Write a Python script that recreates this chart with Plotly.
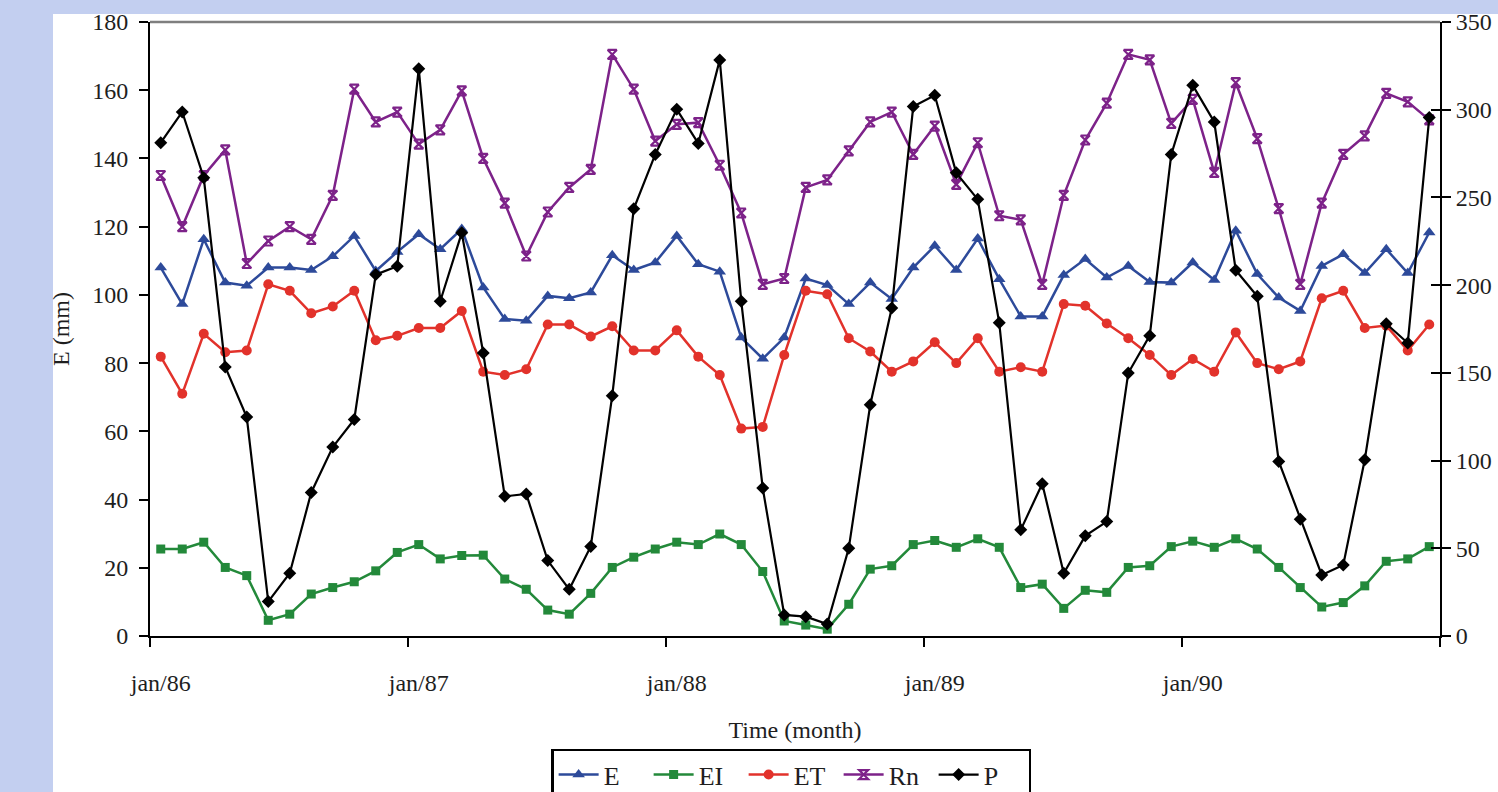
import plotly.graph_objects as go

# ---------------- data ----------------
month_names = ["jan", "fev", "mar", "abr", "mai", "jun", "jul", "ago", "set", "out", "nov", "dez"]
years = ["86", "87", "88", "89", "90"]
months = [f"{m}/{y}" for y in years for m in month_names]
year_tick_labels = ["jan/86", "jan/87", "jan/88", "jan/89", "jan/90"]

E = [108, 97.3, 116.3, 103.6, 102.7, 108, 108, 107.3, 111.3, 117.3,
     107, 112.6, 117.8, 113.4, 119.3, 102.2, 92.9, 92.4, 99.7, 99,
     100.7, 111.6, 107.3, 109.5, 117.3, 109, 106.8, 87.5, 81.3, 87.5,
     104.8, 102.9, 97.3, 103.6, 98.8, 108, 114.4, 107.3, 116.5, 104.6,
     93.7, 93.7, 105.8, 110.5, 105.1, 108.5, 103.8, 103.6, 109.5, 104.4,
     118.8, 106.1, 99.2, 95.3, 108.5, 111.9, 106.4, 113.4, 106.4, 118.3]

EI = [25.5, 25.5, 27.5, 20.1, 17.7, 4.6, 6.4, 12.3, 14.2, 15.9,
      19.1, 24.5, 26.8, 22.6, 23.6, 23.7, 16.7, 13.7, 7.6, 6.4,
      12.5, 20.1, 23.1, 25.5, 27.5, 26.8, 29.9, 26.8, 18.9, 4.4,
      3.2, 2, 9.3, 19.6, 20.6, 26.8, 28, 26, 28.5, 26,
      14.2, 15.2, 8.1, 13.4, 12.8, 20.1, 20.6, 26.2, 27.8, 26,
      28.5, 25.5, 20.1, 14.2, 8.5, 9.8, 14.7, 21.9, 22.6, 26.2]

ET = [81.9, 71, 88.6, 83.2, 83.7, 103.1, 101.2, 94.6, 96.6, 101.2,
      86.7, 88, 90.3, 90.3, 95.3, 77.5, 76.5, 78.2, 91.3, 91.3,
      87.8, 90.8, 83.7, 83.7, 89.6, 81.9, 76.5, 60.8, 61.3, 82.4,
      101.2, 100.2, 87.3, 83.4, 77.5, 80.5, 86.1, 80, 87.3, 77.5,
      78.8, 77.5, 97.3, 96.8, 91.6, 87.3, 82.4, 76.5, 81.2, 77.5,
      89, 80, 78.2, 80.5, 99, 101.2, 90.3, 91, 83.7, 91.3]

Rn = [135, 120, 135, 142.5, 109.2, 115.8, 120, 116.3, 129.2, 160.3,
      150.7, 153.6, 144.2, 148.4, 159.8, 140, 126.9, 111.4, 124.3, 131.5,
      136.8, 170.5, 160.3, 145.1, 150, 150.5, 138, 124, 103.1, 104.8,
      131.5, 133.7, 142.2, 150.7, 153.6, 141.2, 149.5, 132.4, 144.6, 123.2,
      122, 103.1, 129.2, 145.4, 156.2, 170.5, 168.9, 150.3, 157.3, 135.9,
      162.2, 145.8, 125.3, 103.1, 126.9, 141.2, 146.6, 159.1, 156.6, 151.3]

P = [281.2, 298.7, 261.2, 153.4, 124.8, 19.6, 35.8, 81.8, 107.7, 123.4,
     206, 210.8, 323.4, 190.8, 229.8, 161.3, 79.6, 81, 43, 26.6,
     51, 137, 243.5, 274.5, 300.2, 280.8, 328.4, 190.8, 84.3, 12,
     11, 6.8, 50, 131.8, 187, 301.8, 308.2, 264, 248.9, 178.5,
     60.5, 86.8, 35.8, 57.1, 65.2, 149.9, 171.2, 274.5, 313.9, 293,
     208.5, 193.7, 99.5, 66.6, 34.8, 40.5, 100.5, 178, 167, 295.5]

# ---------------- figure ----------------
idx = list(range(len(months)))
label_pos = [months.index(lbl) for lbl in year_tick_labels]
boundary_pos = [i - 0.5 for i in range(0, len(months) + 1, 12)]

FONT = "Liberation Serif, Times New Roman, serif"
TXT = "#1e1e1e"

fig = go.Figure()

series = [
    ("E", E, "#2d4a9a", dict(symbol="triangle-up", size=11), "y", 2.5),
    ("EI", EI, "#23893a", dict(symbol="square", size=9), "y", 2.5),
    ("ET", ET, "#e2322b", dict(symbol="circle", size=10), "y", 2.5),
    ("Rn", Rn, "#7d2289", dict(symbol="hourglass-open", size=9,
                                line=dict(width=2.2, color="#7d2289")), "y", 2.5),
    ("P", P, "#000000", dict(symbol="diamond", size=10), "y2", 2.2),
]
for name, vals, col, mk, yax, lw in series:
    mk = dict(mk)
    mk.setdefault("color", col)
    fig.add_trace(go.Scatter(
        x=idx, y=vals, name=name, mode="lines+markers", yaxis=yax,
        line=dict(color=col, width=lw), marker=mk, customdata=months,
        hovertemplate="%{customdata}: %{y}<extra>" + name + "</extra>",
    ))

# helper invisible traces so the labelled axis and the inner right ticks are drawn
fig.add_trace(go.Scatter(x=label_pos, y=[None] * len(label_pos), xaxis="x2",
                         showlegend=False, hoverinfo="skip", mode="markers"))
fig.add_trace(go.Scatter(x=label_pos, y=[None] * len(label_pos), yaxis="y3",
                         showlegend=False, hoverinfo="skip", mode="markers"))

fig.update_layout(
    width=1498, height=792,
    margin=dict(l=150, r=58, t=22, b=156, autoexpand=False),
    paper_bgcolor="#c3cff0",
    plot_bgcolor="white",
    font=dict(family=FONT, size=24, color=TXT),
    showlegend=True,
    xaxis=dict(
        range=[-0.5, len(months) - 0.5], tickvals=boundary_pos,
        showticklabels=False, ticks="outside", ticklen=9, tickwidth=2,
        tickcolor="black", showline=True, linecolor="black", linewidth=2,
        showgrid=False, zeroline=False, automargin=False,
    ),
    xaxis2=dict(
        overlaying="x", anchor="y", side="bottom",
        range=[-0.5, len(months) - 0.5], tickvals=label_pos,
        ticktext=year_tick_labels, ticks="outside", ticklen=25,
        tickcolor="rgba(0,0,0,0)", showline=False, showgrid=False,
        zeroline=False, automargin=False,
        tickfont=dict(family=FONT, size=24, color=TXT),
        title=dict(text="Time (month)", standoff=26,
                   font=dict(family=FONT, size=24, color=TXT)),
    ),
    yaxis=dict(
        range=[0, 180], dtick=20, ticks="outside", ticklen=9, tickwidth=2,
        tickcolor="black", showline=True, linecolor="black", linewidth=2,
        showgrid=False, zeroline=False, automargin=False,
        ticklabelstandoff=6,
        title=dict(text="E (mm)", standoff=16,
                   font=dict(family=FONT, size=24, color=TXT)),
    ),
    yaxis2=dict(
        range=[0, 350], dtick=50, overlaying="y", side="right",
        ticks="outside", ticklen=9, tickwidth=2, tickcolor="black",
        showline=True, linecolor="black", linewidth=2, showgrid=False,
        zeroline=False, automargin=False,
        tickfont=dict(family=FONT, size=24, color=TXT),
    ),
    yaxis3=dict(
        range=[0, 350], dtick=50, overlaying="y", side="right",
        ticks="inside", ticklen=9, tickwidth=2, tickcolor="black",
        showticklabels=False, showline=False, showgrid=False,
        zeroline=False, automargin=False,
    ),
    legend=dict(
        orientation="h", x=0.497, xanchor="center", y=-0.1835, yanchor="top",
        bgcolor="white", bordercolor="black", borderwidth=2.5,
        font=dict(family=FONT, size=26, color=TXT),
        itemwidth=40, entrywidth=40, entrywidthmode="pixels",
    ),
    shapes=[
        dict(type="rect", xref="paper", yref="paper", x0=-0.0752, x1=1.05,
             y0=-0.3, y1=1.013, fillcolor="white", line=dict(width=0),
             layer="below"),
        dict(type="line", xref="paper", yref="paper", x0=0, x1=1, y0=1, y1=1,
             line=dict(color="#7f7f7f", width=2.5)),
    ],
)

fig.write_html("out.html", config={"displayModeBar": False},
               post_script="document.body.style.margin='0';")
